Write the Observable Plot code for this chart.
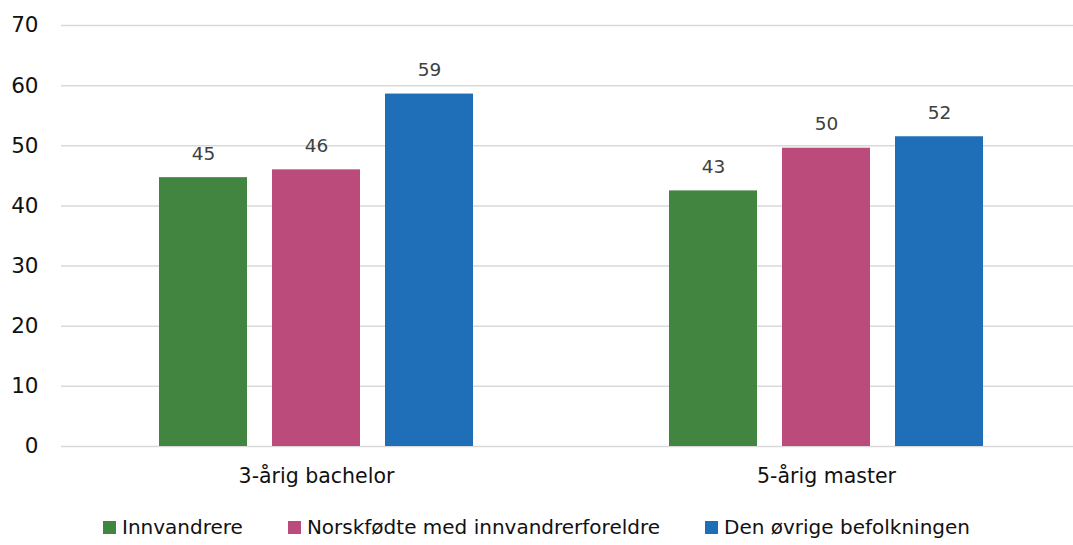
<!DOCTYPE html>
<html>
<head>
<meta charset="utf-8">
<script src="https://cdn.jsdelivr.net/npm/d3@7"></script>
<script src="https://cdn.jsdelivr.net/npm/@observablehq/plot@0.6"></script>
<style>
  html, body { margin: 0; padding: 0; background: #fff; }
  body { width: 1073px; height: 545px; overflow: hidden; font-family: "DejaVu Sans", Verdana, sans-serif; }
  #chart svg { display: block; }
  .legend { display: flex; justify-content: center; align-items: center; gap: 45px; margin-top: 15px; font-size: 20px; line-height: 24px; color: #111; }
  .legend .item { display: flex; align-items: center; }
  .legend .sw { width: 13px; height: 13px; margin-right: 6px; }
</style>
</head>
<body>
<div id="chart"></div>
<script>
const categories = ["3-årig bachelor", "5-årig master"];
const series = ["Innvandrere", "Norskfødte med innvandrerforeldre", "Den øvrige befolkningen"];
const innvandrere = [44.7, 42.5];
const norskfodte = [46.0, 49.6];
const ovrige = [58.6, 51.5];
const colors = ["#428540", "#BB4B7A", "#1F6FB8"];
const yTicks = [0, 10, 20, 30, 40, 50, 60, 70];

const seriesValues = [innvandrere, norskfodte, ovrige];
const data = [];
categories.forEach((c, ci) => {
  series.forEach((s, si) => {
    data.push({category: c, series: s, value: seriesValues[si][ci]});
  });
});

const chart = Plot.plot({
  width: 1073,
  height: 500,
  marginTop: 25,
  marginBottom: 54,
  marginLeft: 60,
  marginRight: 0,
  style: {fontFamily: '"DejaVu Sans", Verdana, sans-serif', background: "#fff"},
  fx: {domain: categories, range: [60, 1081], paddingInner: 0, paddingOuter: 0, label: null},
  x: {domain: series, paddingInner: 0.2176, paddingOuter: 0.8577, axis: null},
  y: {domain: [0, 70], label: null},
  color: {domain: series, range: colors},
  marks: [
    Plot.gridY(yTicks, {stroke: "#d9d9d9", strokeOpacity: 1, strokeWidth: 1.5}),
    Plot.barY(data, {fx: "category", x: "series", y: "value", fill: "series"}),
    Plot.text(data, {fx: "category", x: "series", y: "value", text: d => Math.round(d.value), dy: -24, fill: "#404040", fontSize: 18.5}),
    Plot.axisY(yTicks, {tickSize: 0, tickPadding: 23, fontSize: 21.5, fill: "#111", label: null}),
    Plot.axisFx({anchor: "bottom", tickSize: 0, tickPadding: 22, fontSize: 20.5, fill: "#111", label: null})
  ]
});
document.getElementById("chart").appendChild(chart);

const legend = document.createElement("div");
legend.className = "legend";
series.forEach((s, i) => {
  const item = document.createElement("div");
  item.className = "item";
  const sw = document.createElement("span");
  sw.className = "sw";
  sw.style.background = colors[i];
  const t = document.createElement("span");
  t.textContent = s;
  item.appendChild(sw);
  item.appendChild(t);
  legend.appendChild(item);
});
document.body.appendChild(legend);
</script>
</body>
</html>
